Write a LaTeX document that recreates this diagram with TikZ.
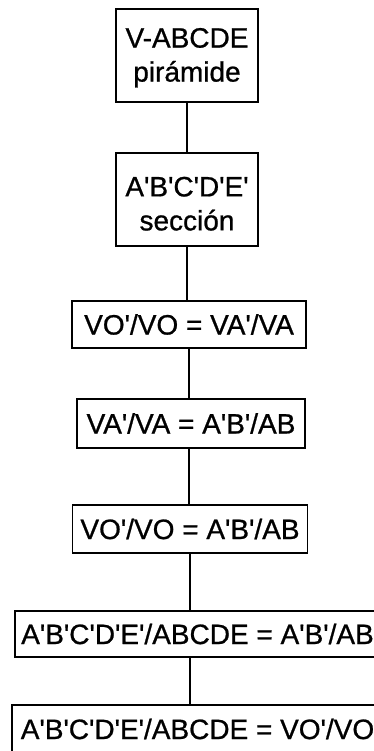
\documentclass[tikz,border=0pt]{standalone}
\usepackage{fontspec}
\newfontfamily\arialf{Liberation Sans}[FakeBold=0.8]
\begin{document}
\begin{tikzpicture}[x=1pt,y=-1pt,
  box/.style={draw, line width=1.4pt, inner sep=0pt, align=center,
    font=\arialf\fontsize{28}{34}\selectfont},
  link/.style={line width=1.4pt}]
\clip (0,0) rectangle (374,751);
\fill[white] (0,0) rectangle (374,751);
\node[box, minimum width=142pt, minimum height=93pt] (b1) at (187,55.5)
  {\rule{0pt}{24pt}V-ABCDE\\pirámide};
\node[box, minimum width=142pt, minimum height=93pt] (b2) at (187,199.5)
  {\rule{0pt}{28pt}A'B'C'D'E'\\sección};
\node[box, minimum width=234pt, minimum height=47pt] (b3) at (189,324.5)
  {VO'/VO = VA'/VA};
\node[box, minimum width=228pt, minimum height=49pt] (b4) at (191,423.5)
  {VA'/VA = A'B'/AB};
\node[box, minimum width=235pt, minimum height=48pt] (b5) at (190,529)
  {VO'/VO = A'B'/AB};
\node[box, minimum width=365pt, minimum height=46pt] (b6) at (197.5,634)
  {A'B'C'D'E'/ABCDE = A'B'/AB};
\node[box, minimum width=371pt, minimum height=48pt] (b7) at (197.5,729)
  {A'B'C'D'E'/ABCDE = VO'/VO};
\draw[link] (b1.south) -- (b1.south |- b2.north);
\draw[link] (b2.south) -- (b2.south |- b3.north);
\draw[link] (b3.south) -- (b3.south |- b4.north);
\draw[link] (b4.south -| b3.south) -- (b5.north -| b3.south);
\draw[link] (b5.south) -- (b5.south |- b6.north);
\draw[link] (b6.south -| b5.south) -- (b7.north -| b5.south);
\end{tikzpicture}
\end{document}
